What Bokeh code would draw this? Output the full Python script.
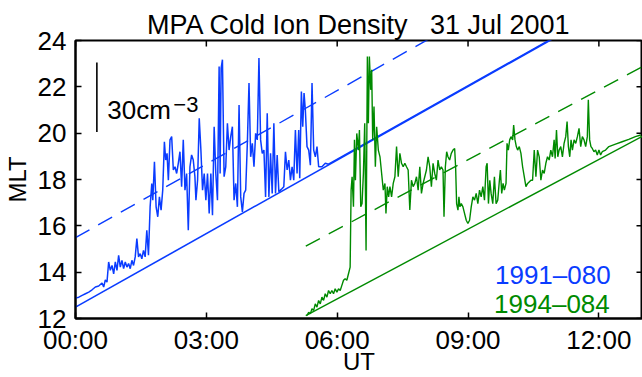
import math
from bokeh.plotting import figure
from bokeh.models import Range1d, FixedTicker, Label
from bokeh.embed import file_html
from bokeh.resources import INLINE

FONT = "Liberation Sans"
BLUE = "#0a3cff"
GREEN = "#008a00"

# ---- data (UT in hours, MLT in hours; trace plotted as orbit MLT + density / 10 cm^-3) ----
ut_ticks = [0, 3, 6, 9, 12]
ut_labels = ["00:00", "03:00", "06:00", "09:00", "12:00"]
mlt_ticks = [12, 14, 16, 18, 20, 22, 24]

density_per_mlt_hour = 10.0   # cm^-3 per MLT hour on the plot
scale_bar_density = 30.0      # cm^-3
scale_bar_ut = 0.49
scale_bar_base = 20.05

blue_orbit_ut = [0.0, 11.5]
blue_orbit_mlt = [12.49, 24.66]
green_orbit_ut = [5.28, 13.0]
green_orbit_mlt = [12.12, 19.87]

blue_ut = [0.000, 0.076, 0.152, 0.228, 0.304, 0.380, 0.456, 0.532, 0.608, 0.646,
           0.684, 0.722, 0.760, 0.798, 0.837, 0.875, 0.913, 0.951, 0.989, 1.027,
           1.065, 1.103, 1.141, 1.179, 1.217, 1.255, 1.293, 1.331, 1.369, 1.407,
           1.445, 1.483, 1.521, 1.559, 1.597, 1.635, 1.673, 1.711, 1.749, 1.772,
           1.810, 1.848, 1.886, 1.924, 1.962, 2.000, 2.038, 2.068, 2.099, 2.129,
           2.167, 2.205, 2.243, 2.281, 2.319, 2.357, 2.395, 2.433, 2.471, 2.510,
           2.548, 2.586, 2.624, 2.662, 2.700, 2.738, 2.761, 2.799, 2.837, 2.875,
           2.913, 2.951, 2.989, 3.027, 3.065, 3.103, 3.141, 3.179, 3.217, 3.255,
           3.293, 3.316, 3.339, 3.369, 3.407, 3.445, 3.483, 3.521, 3.559, 3.597,
           3.635, 3.674, 3.712, 3.750, 3.788, 3.826, 3.864, 3.902, 3.940, 3.978,
           4.016, 4.054, 4.092, 4.130, 4.168, 4.206, 4.244, 4.282, 4.320, 4.358,
           4.396, 4.434, 4.472, 4.510, 4.548, 4.586, 4.624, 4.662, 4.700, 4.738,
           4.776, 4.814, 4.852, 4.890, 4.928, 4.966, 5.004, 5.042, 5.080, 5.118,
           5.141, 5.179, 5.210, 5.240, 5.270, 5.308, 5.347, 5.385, 5.423, 5.461,
           5.499, 5.537, 5.575, 5.651, 5.727, 5.800, 11.3]
blue_mlt = [12.88, 12.92, 13.00, 13.07, 13.14, 13.24, 13.36, 13.40, 13.53, 13.36,
            13.67, 13.57, 14.44, 14.08, 14.29, 13.93, 14.44, 14.08, 14.73, 14.22,
            14.51, 14.15, 14.44, 14.22, 14.37, 14.15, 14.51, 14.29, 14.66, 15.45,
            14.66, 14.80, 14.58, 14.94, 14.66, 15.81, 14.73, 16.82, 17.83, 17.11,
            18.77, 16.82, 16.39, 17.25, 16.68, 17.54, 19.63, 18.84, 19.13, 17.97,
            19.71, 19.85, 18.41, 18.55, 18.26, 18.70, 19.20, 17.69, 19.71, 17.54,
            18.26, 15.81, 18.55, 19.06, 18.84, 18.12, 17.11, 17.97, 20.64, 19.27,
            17.54, 18.26, 17.11, 18.26, 16.53, 18.26, 16.46, 20.28, 18.26, 17.11,
            22.88, 18.26, 22.81, 23.17, 18.12, 18.55, 20.43, 19.27, 19.85, 20.28,
            17.11, 17.83, 16.82, 21.22, 17.25, 16.60, 17.40, 17.54, 19.56, 22.16,
            18.98, 19.56, 18.55, 19.99, 19.71, 23.24, 19.71, 19.13, 19.27, 17.25,
            20.86, 17.25, 19.13, 17.40, 20.43, 17.40, 19.06, 17.47, 17.54, 17.61,
            17.69, 19.20, 18.41, 18.84, 17.97, 18.55, 17.97, 20.14, 18.26, 20.14,
            18.05, 21.80, 20.28, 21.73, 21.00, 19.42, 19.27, 18.62, 22.16, 19.27,
            18.98, 19.42, 18.55, 18.55, 18.70, 18.66, 24.48]

green_ut = [5.308, 5.346, 5.384, 5.422, 5.460, 5.498, 5.536, 5.574, 5.612, 5.650,
            5.688, 5.726, 5.764, 5.802, 5.840, 5.878, 5.916, 5.954, 5.993, 6.031,
            6.069, 6.107, 6.145, 6.183, 6.221, 6.259, 6.297, 6.319, 6.342, 6.373,
            6.396, 6.418, 6.449, 6.487, 6.510, 6.540, 6.570, 6.601, 6.631, 6.662,
            6.692, 6.715, 6.738, 6.768, 6.791, 6.814, 6.844, 6.875, 6.905, 6.943,
            6.981, 7.019, 7.057, 7.095, 7.118, 7.148, 7.179, 7.209, 7.247, 7.285,
            7.323, 7.361, 7.399, 7.437, 7.475, 7.513, 7.551, 7.589, 7.627, 7.665,
            7.703, 7.741, 7.780, 7.818, 7.856, 7.894, 7.932, 7.970, 8.008, 8.046,
            8.084, 8.122, 8.160, 8.198, 8.236, 8.274, 8.312, 8.350, 8.388, 8.426,
            8.449, 8.480, 8.510, 8.540, 8.578, 8.616, 8.655, 8.693, 8.715, 8.738,
            8.769, 8.791, 8.814, 8.845, 8.883, 8.921, 8.959, 8.997, 9.035, 9.073,
            9.111, 9.149, 9.187, 9.225, 9.263, 9.301, 9.339, 9.377, 9.415, 9.438,
            9.468, 9.499, 9.529, 9.567, 9.605, 9.643, 9.681, 9.719, 9.742, 9.772,
            9.803, 9.833, 9.871, 9.894, 9.924, 9.955, 9.985, 10.023, 10.046, 10.077,
            10.107, 10.137, 10.175, 10.213, 10.251, 10.289, 10.327, 10.366, 10.442, 10.480,
            10.518, 10.556, 10.594, 10.632, 10.670, 10.708, 10.746, 10.784, 10.822, 10.860,
            10.898, 10.936, 10.974, 10.997, 11.028, 11.058, 11.088, 11.126, 11.164, 11.202,
            11.240, 11.271, 11.301, 11.332, 11.362, 11.393, 11.431, 11.469, 11.507, 11.545,
            11.583, 11.621, 11.659, 11.697, 11.735, 11.758, 11.788, 11.818, 11.849, 11.887,
            11.925, 11.963, 12.001, 12.039, 12.077, 12.153, 12.229, 12.381, 12.533, 12.685,
            12.837, 12.959]
green_mlt = [12.13, 12.27, 12.20, 12.42, 12.35, 12.63, 12.49, 12.78, 12.63, 12.92,
             12.78, 13.07, 12.92, 13.21, 13.07, 13.21, 13.07, 13.28, 13.14, 13.28,
             13.21, 13.43, 13.65, 13.72, 13.65, 13.93, 14.22, 17.54, 18.12, 16.82,
             19.71, 17.97, 19.99, 19.27, 20.14, 16.82, 16.96, 18.26, 20.43, 14.94,
             23.31, 20.43, 23.31, 21.87, 22.74, 19.71, 21.15, 18.55, 20.28, 19.27,
             18.98, 18.26, 17.54, 17.83, 16.53, 17.69, 17.25, 17.69, 17.25, 17.83,
             18.12, 19.42, 18.12, 19.13, 18.70, 18.55, 18.70, 18.55, 18.41, 16.68,
             17.97, 17.69, 17.83, 18.12, 17.54, 18.55, 17.40, 17.83, 18.12, 18.41,
             18.98, 18.55, 17.69, 18.70, 18.26, 17.97, 18.84, 18.41, 18.55, 18.41,
             16.39, 18.55, 19.20, 18.98, 18.84, 19.13, 19.27, 19.34, 18.55, 16.96,
             16.68, 17.25, 16.82, 16.96, 16.82, 16.53, 16.24, 16.10, 16.24, 16.82,
             17.25, 17.11, 17.40, 16.96, 17.54, 17.25, 17.69, 17.11, 18.55, 18.70,
             16.96, 17.97, 17.40, 16.96, 18.12, 16.96, 17.11, 17.97, 18.41, 17.40,
             17.83, 17.54, 17.83, 19.56, 19.27, 19.71, 19.85, 19.71, 20.35, 19.71,
             19.42, 19.27, 19.42, 19.13, 18.55, 18.12, 17.69, 17.83, 17.97, 17.97,
             19.27, 18.12, 19.27, 18.98, 17.97, 18.41, 18.26, 18.70, 18.98, 18.84,
             19.27, 18.98, 19.71, 18.91, 20.14, 18.98, 19.27, 19.42, 18.98, 19.56,
             19.85, 20.50, 19.42, 18.98, 19.71, 19.27, 19.71, 19.56, 19.85, 20.21,
             19.42, 19.85, 19.71, 19.42, 19.85, 21.44, 19.71, 19.42, 19.34, 19.20,
             19.27, 19.06, 19.27, 19.06, 19.20, 19.27, 19.42, 19.53, 19.63, 19.73,
             19.85, 19.92]

title_text = "MPA Cold Ion Density \u00a0 31 Jul 2001"
x_title = "UT"
y_title = "MLT"
sat_names = ["1991\u2013080", "1994\u2013084"]

# ---- figure ----
p = figure(width=642, height=377, output_backend="svg", toolbar_location=None,
           x_range=Range1d(0, 13), y_range=Range1d(12, 24),
           min_border_left=74, min_border_right=0, min_border_top=40, min_border_bottom=59,
           title=title_text)
p.background_fill_color = "white"
p.border_fill_color = "white"
p.outline_line_color = "black"
p.outline_line_width = 2
p.xgrid.visible = False
p.ygrid.visible = False

p.title.text_font = FONT
p.title.text_font_size = "27px"
p.title.text_font_style = "normal"
p.title.text_color = "black"
p.title.align = "center"
p.title.standoff = 1

for ax in (p.xaxis[0], p.yaxis[0]):
    ax.axis_line_color = "black"
    ax.axis_line_width = 2
    ax.major_tick_in = 6
    ax.major_tick_out = 0
    ax.major_tick_line_color = "black"
    ax.major_tick_line_width = 1.5
    ax.minor_tick_line_color = None
    ax.major_label_text_font = FONT
    ax.major_label_text_color = "black"
    ax.major_label_text_font_size = "26px"
    ax.axis_label_text_font = FONT
    ax.axis_label_text_font_style = "normal"
    ax.axis_label_text_color = "black"
    ax.axis_label_text_font_size = "24px"

xax = p.xaxis[0]
yax = p.yaxis[0]
xax.ticker = FixedTicker(ticks=ut_ticks)
xax.major_label_overrides = {t: s for t, s in zip(ut_ticks, ut_labels)}
yax.ticker = FixedTicker(ticks=mlt_ticks)
xax.axis_label = x_title
yax.axis_label = y_title
xax.major_label_standoff = 6
xax.axis_label_standoff = -10
yax.major_label_standoff = 9
yax.axis_label_standoff = 4

# inward ticks on the top and right edges of the box
p.ray(x=ut_ticks, y=[p.y_range.end] * len(ut_ticks), length=6, length_units="screen",
      angle=-math.pi / 2, line_color="black", line_width=1.5)
p.ray(x=[p.x_range.end] * len(mlt_ticks), y=mlt_ticks, length=6, length_units="screen",
      angle=math.pi, line_color="black", line_width=1.5)

# orbit (zero density) lines and 30 cm^-3 reference lines
off = scale_bar_density / density_per_mlt_hour
p.line(blue_orbit_ut, blue_orbit_mlt, line_color=BLUE, line_width=1.6)
p.line(blue_orbit_ut, [m + off for m in blue_orbit_mlt], line_color=BLUE, line_width=1.4, line_dash="16 10")
p.line(green_orbit_ut, green_orbit_mlt, line_color=GREEN, line_width=1.4)
p.line(green_orbit_ut, [m + off for m in green_orbit_mlt], line_color=GREEN, line_width=1.4, line_dash="16 10")

# density traces
p.line(blue_ut, blue_mlt, line_color=BLUE, line_width=1.5)
p.line(green_ut, green_mlt, line_color=GREEN, line_width=1.4)

# scale bar
p.line([scale_bar_ut, scale_bar_ut], [scale_bar_base, scale_bar_base + off], line_color="black", line_width=1.6)
p.add_layout(Label(x=0.73, y=21.0, text="30cm", text_font=FONT, text_font_size="26px",
                   text_color="black", text_baseline="alphabetic", text_align="left"))
p.add_layout(Label(x=0.73, y=21.0, x_offset=66, y_offset=6, text="\u22123", text_font=FONT,
                   text_font_size="22px", text_color="black", text_baseline="alphabetic", text_align="left"))

# satellite names
p.add_layout(Label(x=12.27, y=13.86, text=sat_names[0], text_font=FONT, text_font_size="26px",
                   text_color=BLUE, text_align="right", text_baseline="alphabetic"))
p.add_layout(Label(x=12.25, y=12.61, text=sat_names[1], text_font=FONT, text_font_size="26px",
                   text_color=GREEN, text_align="right", text_baseline="alphabetic"))

open("out.html", "w").write(file_html(p, INLINE))
